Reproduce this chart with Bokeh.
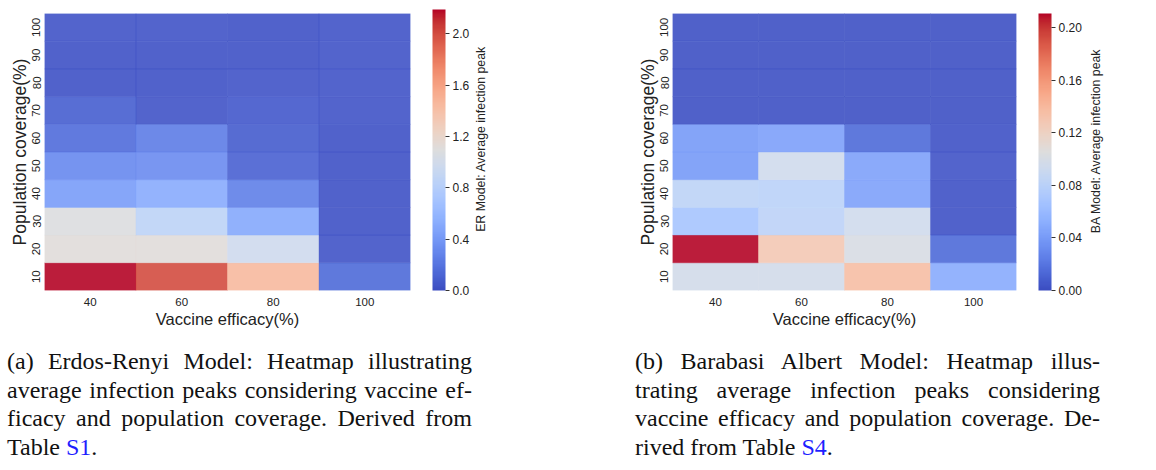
from bokeh.plotting import figure
from bokeh.models import (ColumnDataSource, FactorRange, LinearColorMapper, ColorBar,
                          FixedTicker, PrintfTickFormatter, Label, Div, Range1d)
from bokeh.layouts import row, column
from bokeh.transform import transform
from bokeh.embed import file_html
from bokeh.resources import INLINE

# ---------------- data ----------------
efficacy = ["40", "60", "80", "100"]
coverage = ["10", "20", "30", "40", "50", "60", "70", "80", "90", "100"]

# rows: coverage 10..100, columns: efficacy 40, 60, 80, 100
er_peak = [
    [2.19, 2.00, 1.45, 0.15],
    [1.12, 1.12, 0.97, 0.04],
    [1.08, 0.86, 0.50, 0.03],
    [0.42, 0.52, 0.26, 0.03],
    [0.31, 0.33, 0.11, 0.03],
    [0.16, 0.24, 0.08, 0.03],
    [0.09, 0.04, 0.06, 0.04],
    [0.03, 0.03, 0.04, 0.04],
    [0.03, 0.03, 0.03, 0.04],
    [0.04, 0.04, 0.03, 0.04],
]
ba_peak = [
    [0.097, 0.097, 0.136, 0.050],
    [0.210, 0.128, 0.101, 0.014],
    [0.068, 0.082, 0.094, 0.003],
    [0.083, 0.080, 0.044, 0.003],
    [0.040, 0.094, 0.044, 0.004],
    [0.040, 0.043, 0.014, 0.003],
    [0.002, 0.002, 0.002, 0.002],
    [0.002, 0.002, 0.002, 0.002],
    [0.002, 0.002, 0.002, 0.002],
    [0.002, 0.002, 0.002, 0.002],
]
er_ticks = [0.0, 0.4, 0.8, 1.2, 1.6, 2.0]
ba_ticks = [0.0, 0.04, 0.08, 0.12, 0.16, 0.20]

# ---------------- coolwarm palette ----------------
_cw = [
    (59, 76, 192), (68, 90, 204), (77, 104, 215), (87, 117, 225), (98, 130, 234),
    (108, 142, 241), (119, 154, 247), (130, 165, 251), (141, 176, 254), (152, 185, 255),
    (163, 194, 255), (174, 201, 253), (184, 208, 249), (194, 213, 244), (204, 217, 238),
    (213, 219, 230), (221, 221, 221), (229, 216, 209), (236, 211, 197), (241, 204, 185),
    (245, 196, 173), (247, 187, 160), (247, 177, 148), (247, 166, 135), (244, 154, 123),
    (241, 141, 111), (236, 127, 99), (229, 112, 88), (222, 96, 77), (213, 80, 66),
    (203, 62, 56), (192, 40, 47), (180, 4, 38)]


def coolwarm(n=256):
    out = []
    m = len(_cw) - 1
    for i in range(n):
        t = i / (n - 1) * m
        k = min(int(t), m - 1)
        f = t - k
        c = [round(_cw[k][j] + (_cw[k + 1][j] - _cw[k][j]) * f) for j in range(3)]
        out.append("#%02x%02x%02x" % tuple(c))
    return out


PAL = coolwarm(256)
SANS = "Liberation Sans"
FIG_H = 330


def heatmap(values, vmax, ticks, fmt, width, left, top, frame_w, frame_h):
    xs, ys, vs = [], [], []
    for i, cov in enumerate(coverage):
        for j, eff in enumerate(efficacy):
            xs.append(eff)
            ys.append(cov)
            vs.append(values[i][j])
    src = ColumnDataSource(dict(x=xs, y=ys, v=vs))
    mapper = LinearColorMapper(palette=PAL, low=0, high=vmax)

    p = figure(width=width, height=FIG_H, x_range=FactorRange(*efficacy),
               y_range=FactorRange(*coverage), toolbar_location=None,
               output_backend="svg", min_border_left=left, min_border_top=top,
               min_border_right=width - left - frame_w,
               min_border_bottom=FIG_H - top - frame_h)
    p.rect(x="x", y="y", width=1, height=1, source=src,
           fill_color=transform("v", mapper), fill_alpha=0.9,
           line_color=transform("v", mapper), line_alpha=0.6, line_width=0.6)
    p.outline_line_color = None
    p.grid.visible = False
    p.background_fill_color = "white"
    p.border_fill_color = "white"

    for ax in (p.xaxis[0], p.yaxis[0]):
        ax.axis_line_color = None
        ax.major_tick_line_color = None
        ax.minor_tick_line_color = None
        ax.major_tick_out = 0
        ax.major_tick_in = 0
        ax.major_label_text_font = SANS
        ax.major_label_text_font_size = "11.5px"
        ax.major_label_text_color = "#222222"
        ax.axis_label_text_font = SANS
        ax.axis_label_text_font_style = "normal"
        ax.axis_label_text_color = "#222222"
        ax.axis_label_standoff = 1
    p.xaxis.axis_label = "Vaccine efficacy(%)"
    p.xaxis.axis_label_text_font_size = "16.5px"
    p.xaxis.major_label_standoff = 7
    p.yaxis.axis_label = "Population coverage(%)"
    p.yaxis.axis_label_text_font_size = "17.5px"
    p.yaxis.major_label_orientation = "vertical"
    p.yaxis.major_label_standoff = 4
    p.yaxis.axis_label_standoff = 0

    cb = ColorBar(color_mapper=mapper, width=13, height=frame_h, location=(22, 0),
                  padding=0, margin=0, ticker=FixedTicker(ticks=ticks),
                  formatter=PrintfTickFormatter(format=fmt),
                  major_tick_out=4, major_tick_in=0, major_tick_line_color="#333333",
                  minor_tick_line_color=None, bar_line_color=None,
                  label_standoff=3, major_label_text_font=SANS,
                  major_label_text_font_size="12px", major_label_text_color="#222222",
                  background_fill_color=None, border_line_color=None)
    p.add_layout(cb, "right")
    return p


def side_title(text, width, cx, cy_from_top):
    t = figure(width=width, height=FIG_H, x_range=Range1d(0, width),
               y_range=Range1d(0, FIG_H), toolbar_location=None, output_backend="svg",
               x_axis_location=None, y_axis_location=None, min_border=0,
               min_border_left=0, min_border_right=0, min_border_top=0,
               min_border_bottom=0)
    t.outline_line_color = None
    t.grid.visible = False
    t.add_layout(Label(x=cx, y=FIG_H - cy_from_top, text=text, angle=90,
                       angle_units="deg", text_align="center", text_baseline="middle",
                       text_font=SANS, text_font_size="12.3px", text_color="#222222"))
    return t


fa = heatmap(er_peak, 2.19, er_ticks, "%.1f", 472, 44, 9, 369, 281)
ta = side_title("ER Model: Average infection peak", 108, 8, 149.5)
fb = heatmap(ba_peak, 0.2106, ba_ticks, "%.2f", 504, 92, 13, 354, 277)
tb = side_title("BA Model: Average infection peak", 72, 11, 151.5)

BLUE = "#1f1fff"


def caption(lines, width, pad_left):
    html = ('<div style="box-sizing:content-box; margin:0; padding-top:17px; '
            'padding-left:%dpx; width:465px; '
            'font-family:\'Liberation Serif\', serif; font-size:24px; line-height:28.7px; '
            'color:#111111;">' % pad_left)
    for i, ln in enumerate(lines):
        last = (i == len(lines) - 1)
        html += ('<div style="width:465px; white-space:nowrap; text-align:justify; '
                 'text-align-last:%s;">%s</div>'
                 % ("left" if last else "justify", ln))
    html += "</div>"
    return Div(text=html, width=width, height=140, margin=(0, 0, 0, 0))


cap_a = caption([
    "(a) Erdos-Renyi Model: Heatmap illustrating",
    "average infection peaks considering vaccine ef-",
    "ficacy and population coverage. Derived from",
    'Table <span style="color:%s">S1</span>.' % BLUE,
], 580, 7)
cap_b = caption([
    "(b) Barabasi Albert Model: Heatmap illus-",
    "trating average infection peaks considering",
    "vaccine efficacy and population coverage. De-",
    'rived from Table <span style="color:%s">S4</span>.' % BLUE,
], 576, 55)

layout = column(row(fa, ta, fb, tb, spacing=0), row(cap_a, cap_b, spacing=0), spacing=0)

open("out.html", "w").write(file_html(layout, INLINE))
